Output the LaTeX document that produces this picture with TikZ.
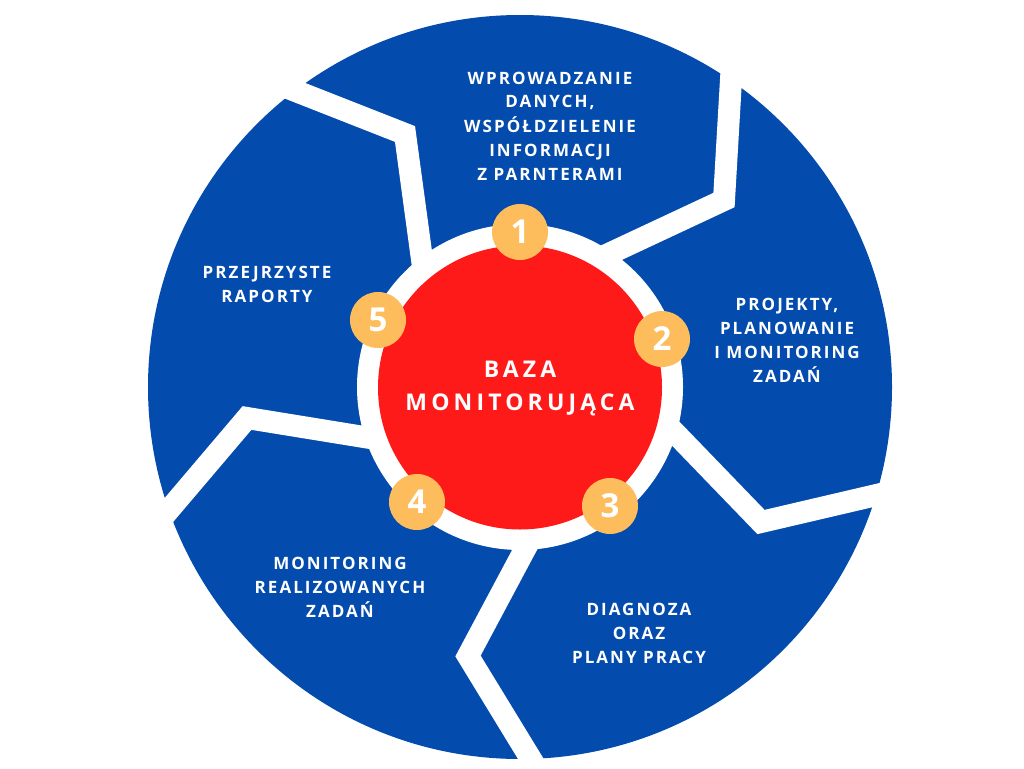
\documentclass[tikz,border=0pt]{standalone}
\usepackage{fontspec}
\setmainfont{Open Sans}
\newfontfamily\lblfont[LetterSpace=12]{Open Sans}
\newfontfamily\ctrfont[LetterSpace=18]{Open Sans}
\definecolor{segblue}{HTML}{034BAD}
\definecolor{corered}{HTML}{FF1A1A}
\definecolor{numyellow}{HTML}{FDBD5D}
\tikzset{
  gap/.style={white, line width=22pt, line join=miter, line cap=butt},
  num/.style={circle, fill=numyellow, minimum size=56pt, inner sep=0pt, text=white,
    font=\bfseries\fontsize{33}{33}\selectfont},
  lbl/.style={anchor=base, inner sep=0pt, text=white,
    font=\lblfont\bfseries\fontsize{17}{24}\selectfont},
  core/.style={circle, fill=corered, minimum size=284pt, inner sep=0pt, text=white,
    font=\ctrfont\bfseries\fontsize{23}{33}\selectfont}
}
\begin{document}
\begin{tikzpicture}[x=1pt,y=-1pt]
\useasboundingbox (0,0) rectangle (1024,768);
\fill[white] (0,0) rectangle (1024,768);
% big blue disk
\fill[segblue] (520,387) circle[radius=372pt];
% white gaps between segments
\draw[gap] (260,77) -- (405,134) -- (421,252) -- (429,311);
\draw[gap] (733,45) -- (724,200) -- (615,251) -- (570,272);
\draw[gap] (915,486) -- (761,522) -- (678,436) -- (640,397);
\draw[gap] (548,787) -- (468,656) -- (524,551) -- (545,512);
\draw[gap] (140,544) -- (247,418) -- (364,437) -- (420,446);
% white ring and red core
\fill[white] (520,387) circle[radius=163pt];
\node[core] (core) at (520,387.5) {};
\node[anchor=base, inner sep=0pt, text=white, font=\ctrfont\bfseries\fontsize{23}{33}\selectfont] (coretext) at (520,377)
  {\begin{tabular}[t]{@{}c@{}}BAZA\\MONITORUJĄCA\end{tabular}};
% numbers
\node[num] (n1) at (520,232) {1};
\node[num] (n2) at (662,339) {2};
\node[num] (n3) at (610,506) {3};
\node[num] (n4) at (417,502) {4};
\node[num] (n5) at (378,320) {5};
% labels
\node[lbl] (t1) at (550,84) {\begin{tabular}[t]{@{}c@{}}WPROWADZANIE\\DANYCH,\\WSPÓŁDZIELENIE\\INFORMACJI\\Z PARNTERAMI\end{tabular}};
\node[lbl] (t2) at (787,310) {\begin{tabular}[t]{@{}c@{}}PROJEKTY,\\PLANOWANIE\\I MONITORING\\ZADAŃ\end{tabular}};
\node[lbl] (t3) at (639,615) {\begin{tabular}[t]{@{}c@{}}DIAGNOZA\\ORAZ\\PLANY PRACY\end{tabular}};
\node[lbl] (t4) at (340,569) {\begin{tabular}[t]{@{}c@{}}MONITORING\\REALIZOWANYCH\\ZADAŃ\end{tabular}};
\node[lbl] (t5) at (267,278) {\begin{tabular}[t]{@{}c@{}}PRZEJRZYSTE\\RAPORTY\end{tabular}};
\end{tikzpicture}
\end{document}
